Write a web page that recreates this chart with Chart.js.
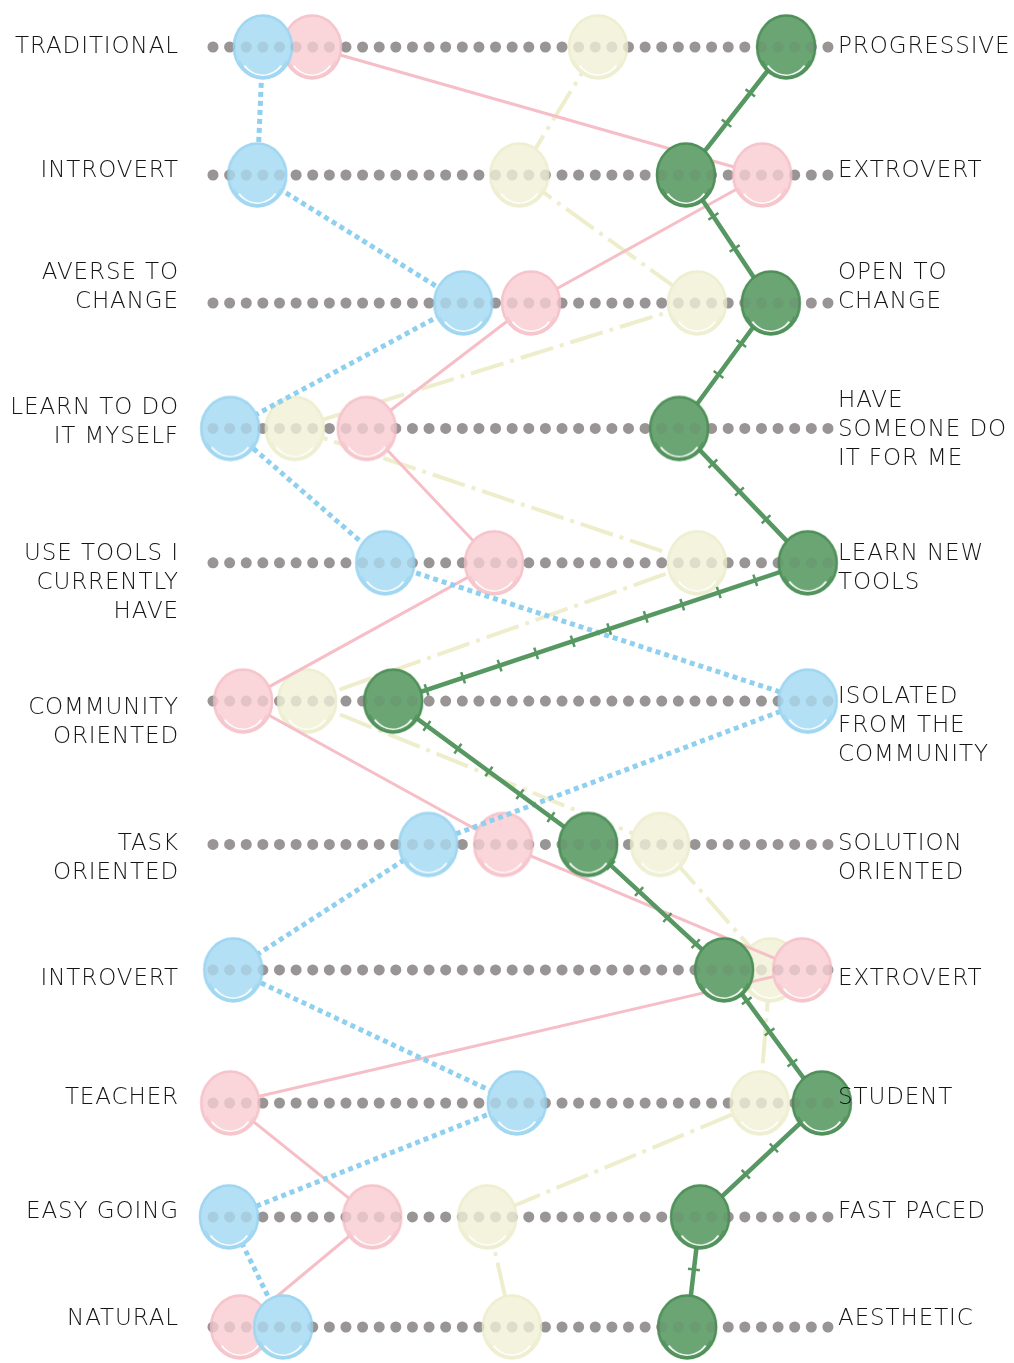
<!DOCTYPE html>
<html>
<head>
<meta charset="utf-8">
<script src="https://cdn.jsdelivr.net/npm/chart.js@4"></script>
<style>
  html, body { margin: 0; padding: 0; background: #ffffff; }
  #wrap { width: 1014px; height: 1363px; }
</style>
</head>
<body>
<div id="wrap"><canvas id="c" width="1014" height="1363"></canvas></div>
<script>
// ---- data ----
const leftLabels = [
  ["TRADITIONAL"], ["INTROVERT"], ["AVERSE TO", "CHANGE"], ["LEARN TO DO", "IT MYSELF"],
  ["USE TOOLS I", "CURRENTLY", "HAVE"], ["COMMUNITY", "ORIENTED"], ["TASK", "ORIENTED"],
  ["INTROVERT"], ["TEACHER"], ["EASY GOING"], ["NATURAL"]
];
const rightLabels = [
  ["PROGRESSIVE"], ["EXTROVERT"], ["OPEN TO", "CHANGE"], ["HAVE", "SOMEONE DO", "IT FOR ME"],
  ["LEARN NEW", "TOOLS"], ["ISOLATED", "FROM THE", "COMMUNITY"], ["SOLUTION", "ORIENTED"],
  ["EXTROVERT"], ["STUDENT"], ["FAST PACED"], ["AESTHETIC"]
];
// row levels on the vertical scale (0 = top row)
const rowLevels = [0, 1.0, 2.0, 2.98, 4.03, 5.11, 6.23, 7.21, 8.25, 9.14, 10];
// scores on a 0 (left trait) .. 100 (right trait) scale
const blueScores   = [8.1, 7.2, 40.7, 2.8, 28.0, 96.7, 35.0, 3.3, 49.4, 2.6, 11.4];
const pinkScores   = [16.1, 89.3, 51.7, 25.0, 45.7, 4.9, 47.2, 95.8, 2.8, 25.9, 4.4];
const yellowScores = [62.6, 49.8, 78.7, 13.3, 78.7, 15.3, 72.7, 90.6, 88.9, 44.6, 48.6];
const greenScores  = [93.2, 76.9, 90.7, 75.8, 96.7, 29.3, 61.0, 83.1, 99.0, 79.2, 77.1];

// ---- layout / style ----
const leftOffsets  = [0, -0.14, -1.03, -0.69, -0.31, 0.24, 0, 0.31, -0.17, -0.17, -0.28];
const rightOffsets = [0, -0.14, -1.03, -0.93, -0.31, -0.14, 0, 0.31, -0.17, -0.17, -0.28];

function makeBubble(fill, stroke) {
  const c = document.createElement('canvas');
  c.width = 68; c.height = 72;
  const g = c.getContext('2d');
  g.beginPath();
  g.ellipse(34, 36, 29, 31.5, 0, 0, Math.PI * 2);
  g.fillStyle = fill; g.fill();
  g.lineWidth = 2.5; g.strokeStyle = stroke; g.stroke();
  g.beginPath();
  g.ellipse(34, 37.5, 24, 27, 0, 0.22 * Math.PI, 0.78 * Math.PI);
  g.strokeStyle = 'rgba(255,255,255,0.95)'; g.lineWidth = 2; g.stroke();
  g.beginPath();
  g.ellipse(34, 36, 26.5, 29.5, 0, 0.15 * Math.PI, 0.85 * Math.PI);
  g.strokeStyle = stroke; g.lineWidth = 1.2; g.stroke();
  return c;
}
const greenBubble  = makeBubble('#6aa573', '#4f9059');
const blueBubble   = makeBubble('#b3e0f5', '#9fd6f1');
const pinkBubble   = makeBubble('#fad5da', '#f6c4cb');
const yellowBubble = makeBubble('#f4f4de', '#eeeed0');

const toPts = arr => arr.map((v, i) => ({ x: v, y: rowLevels[i] }));

const personaBase = { showLine: true, clip: false, pointRadius: 30, pointHoverRadius: 30, tension: 0 };

function trackSet(color, prefix) {
  return rowLevels.map((lv, i) => ({
    label: prefix + i, data: [{ x: 0, y: lv }, { x: 100, y: lv }], showLine: true, clip: false,
    borderColor: color, borderWidth: 11, borderDash: [0, 16.62], borderCapStyle: 'round',
    pointRadius: 0, pointHoverRadius: 0
  }));
}

const datasets = [].concat(
  trackSet('rgba(110,105,105,0.16)', 'veil'),
  [
    Object.assign({}, personaBase, {
      label: 'green', data: toPts(greenScores), borderColor: '#579862', borderWidth: 4.5,
      pointStyle: greenBubble
    }),
    Object.assign({}, personaBase, {
      label: 'greenTicks', data: toPts(greenScores), borderColor: '#579862', borderWidth: 12,
      borderDash: [2.5, 36], borderDashOffset: 20, pointRadius: 0, pointHoverRadius: 0
    }),
    Object.assign({}, personaBase, {
      label: 'blue', data: toPts(blueScores), borderColor: '#8fd0ef', borderWidth: 5,
      borderDash: [5, 4], pointStyle: blueBubble
    }),
    Object.assign({}, personaBase, {
      label: 'pink', data: toPts(pinkScores), borderColor: '#f6bec6', borderWidth: 3,
      pointStyle: pinkBubble
    }),
    Object.assign({}, personaBase, {
      label: 'yellow', data: toPts(yellowScores), borderColor: '#eeeecd', borderWidth: 4,
      borderDash: [34, 7, 4, 7], pointStyle: yellowBubble
    })
  ],
  trackSet('#a19e9e', 'track')
);

const labelPlugin = {
  id: 'traitLabels',
  afterDraw(chart) {
    const ctx = chart.ctx;
    const ys = chart.scales.y;
    const lh = 29;
    ctx.save();
    ctx.font = '200 23px "DejaVu Sans"';
    if ('letterSpacing' in ctx) ctx.letterSpacing = '0.9px';
    ctx.fillStyle = '#151515';
    ctx.textBaseline = 'middle';
    leftLabels.forEach((lines, i) => {
      const base = ys.getPixelForValue(rowLevels[i]);
      ctx.textAlign = 'right';
      lines.forEach((t, k) => ctx.fillText(t, 179, base + (leftOffsets[i] + k) * lh));
    });
    rightLabels.forEach((lines, i) => {
      const base = ys.getPixelForValue(rowLevels[i]);
      ctx.textAlign = 'left';
      lines.forEach((t, k) => ctx.fillText(t, 838, base + (rightOffsets[i] + k) * lh));
    });
    ctx.restore();
  }
};

new Chart(document.getElementById('c'), {
  type: 'scatter',
  data: { datasets },
  options: {
    responsive: false,
    animation: false,
    events: [],
    layout: { padding: { left: 213, right: 186, top: 47, bottom: 36 } },
    plugins: { legend: { display: false }, tooltip: { enabled: false } },
    scales: {
      x: { type: 'linear', min: 0, max: 100, display: false },
      y: { type: 'linear', min: 0, max: 10, reverse: true, display: false }
    }
  },
  plugins: [labelPlugin]
});
</script>
</body>
</html>
